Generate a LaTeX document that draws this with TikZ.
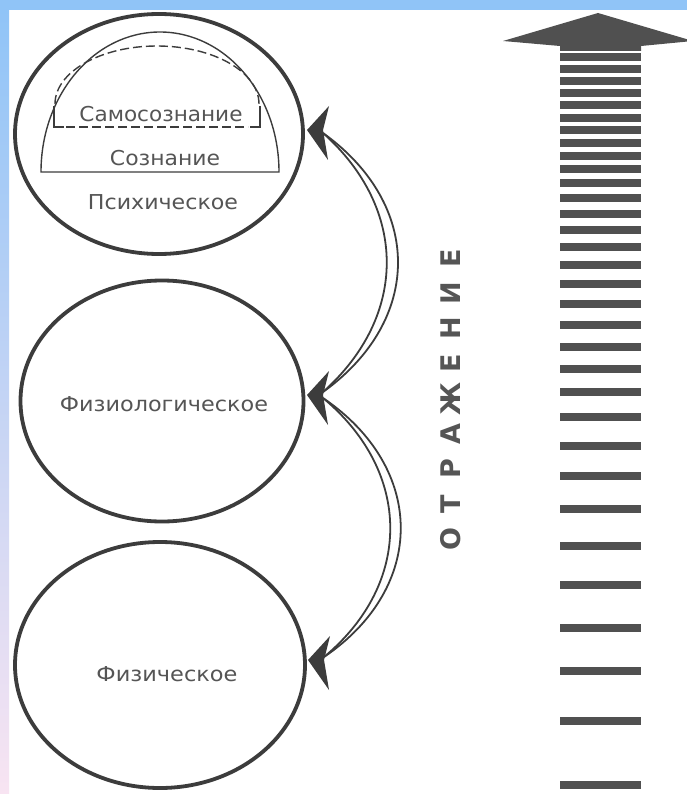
\documentclass[tikz,border=0pt]{standalone}
\usepackage{fontspec}
\setmainfont{DejaVu Sans}
\usepackage{graphicx}
\usetikzlibrary{shapes.geometric,calc}
\definecolor{ink}{HTML}{3C3C3C}
\definecolor{txt}{HTML}{555555}
\definecolor{bandblue}{HTML}{90C4F7}
\definecolor{bandmid}{HTML}{C4D2F0}
\definecolor{bandpink}{HTML}{F8E4F2}
\definecolor{barc}{HTML}{505050}
\newcommand{\fitw}[2]{\resizebox{#1}{\height}{#2}}
\begin{document}
\begin{tikzpicture}[x=1pt,y=-1pt,
  oval/.style={draw=ink, line width=3.8pt, ellipse, inner sep=0pt},
  lbl/.style={text=txt, inner sep=0pt, anchor=base, font=\fontsize{20.5}{20.5}\selectfont},
  vlet/.style={text=txt, inner sep=0pt, rotate=90, font=\fontsize{27}{27}\selectfont\bfseries},
  arcline/.style={draw=ink, line width=1.8pt},
  dart/.style={fill=ink},
  bar/.style={fill=barc}]
\useasboundingbox (0,0) rectangle (687,794);
% background
\fill[white] (0,0) rectangle (687,794);
\fill[bandblue] (0,0) rectangle (687,10);
\shade[top color=bandblue, middle color=bandmid, bottom color=bandpink] (0,10) rectangle (9,794);
% circles
\node[oval, minimum width=288pt, minimum height=240pt] (psy) at (159,134) {};
\node[oval, minimum width=283pt, minimum height=241pt] (phys) at (162,401) {};
\node[oval, minimum width=290pt, minimum height=246pt] (fizc) at (160,665) {};
% consciousness dome
\draw[ink, line width=1.4pt] (41,172) arc[start angle=180, end angle=360, x radius=119, y radius=140] -- cycle;
% self-consciousness dashed dome
\draw[ink, line width=1.4pt, dash pattern=on 9pt off 4pt] (55,104) arc[start angle=180, end angle=360, x radius=102, y radius=58];
\draw[ink, line width=1.4pt, dash pattern=on 9pt off 4pt] (66,127) -- (248,127);
\draw[ink, line width=1.4pt] (54,106) -- (54,127) -- (64,127);
\draw[ink, line width=1.4pt] (260,106) -- (260,127) -- (250,127);
% labels
\node[lbl] (samo) at (161,122) {\fitw{163pt}{Самосознание}};
\node[lbl] (soz) at (165,166) {\fitw{110pt}{Сознание}};
\node[lbl] (psyt) at (163,210) {\fitw{150pt}{Психическое}};
\node[lbl] (fiziol) at (164,411) {\fitw{208pt}{Физиологическое}};
\node[lbl] (fizt) at (167,681) {\fitw{141pt}{Физическое}};
% darts
\coordinate (tA) at (307,130);
\coordinate (tB) at (307,395);
\coordinate (tC) at (308,660);
\foreach \t in {tA,tB,tC}{
  \fill[dart, shift={(\t)}] (0,0) -- (22,-24) -- (16,0) -- (21,30) -- cycle;
}
\coordinate (nA) at ($(tA)+(16,3)$);
\coordinate (nB1) at ($(tB)+(16,-3)$);
\coordinate (nB2) at ($(tB)+(16,3)$);
\coordinate (nC) at ($(tC)+(16,-3)$);
% connectors
\draw[arcline] (nA) .. controls ($(nA)+(100,72)$) and ($(nB1)+(100,-72)$) .. (nB1);
\draw[arcline] (nA) .. controls ($(nA)+(85,76)$) and ($(nB1)+(85,-76)$) .. (nB1);
\draw[arcline] (nB2) .. controls ($(nB2)+(103,70)$) and ($(nC)+(103,-70)$) .. (nC);
\draw[arcline] (nB2) .. controls ($(nB2)+(89,74)$) and ($(nC)+(89,-74)$) .. (nC);
% vertical word
\foreach \l [count=\i from 0] in {О,Т,Р,А,Ж,Е,Н,И,Е}{
  \node[vlet] (v\i) at (451,{539-\i*35.1}) {\l};
}
% bar arrow
\fill[bar] (503,41) -- (598,13) -- (693,41) -- (641,46) -- (641,51) -- (560,51) -- (560,46) -- cycle;
\foreach \y in {57,69,81,93,105,118,130,143,156,169,183,198,214,230,247,265,284,304,325,347,369,392,417,446,476,509,546,585,628,671,721,785}{
  \fill[bar] (560,\y-3.7) rectangle (641,\y+3.7);
}
\end{tikzpicture}
\end{document}
